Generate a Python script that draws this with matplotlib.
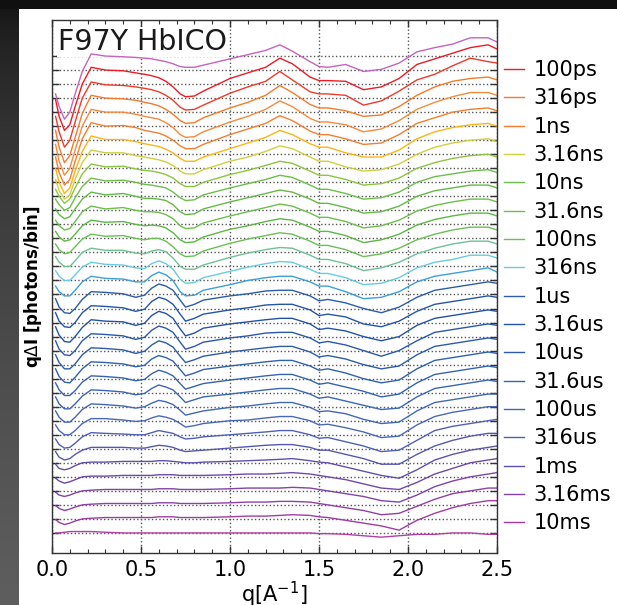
import numpy as np
import matplotlib
matplotlib.use('Agg')
import matplotlib.pyplot as plt
from matplotlib.ticker import MultipleLocator

# ---- data ----
q_points = [0.02, 0.04, 0.07, 0.10, 0.13,
            0.17, 0.22, 0.30, 0.40, 0.47,
            0.52, 0.56, 0.60, 0.64, 0.68,
            0.72, 0.75, 0.80, 0.85, 1.00,
            1.10, 1.20, 1.28, 1.35, 1.45,
            1.50, 1.55, 1.65, 1.75, 1.85,
            1.95, 2.05, 2.15, 2.25, 2.35,
            2.45, 2.50]

c00 = [-2.7, -3.6, -4.5, -4.0, -2.7, -1.1, 0.15, 0.0, -0.05, -0.1, -0.15, -0.2, -0.3, -0.4, -0.55, -0.75, -0.8, -0.8, -0.65, -0.2, 0.1, 0.4, 0.8, 0.35, -0.4, -0.75, -0.8, -0.6, -1.1, -0.95, -0.5, 0.3, 0.6, 0.85, 1.3, 1.3, 1.0]
c01 = [-2.1, -3.3, -4.3, -3.9, -2.6, -1.0, 0.2, 0.0, -0.05, -0.2, -0.3, -0.4, -0.55, -0.8, -1.2, -1.7, -1.9, -1.85, -1.5, -0.6, -0.2, 0.2, 0.85, 0.45, -0.5, -0.75, -0.75, -0.8, -1.4, -1.2, -0.6, 0.4, 0.8, 1.2, 1.6, 1.8, 1.5]
c02 = [-2.3, -3.4, -4.5, -4.0, -2.7, -1.0, 0.15, -0.05, -0.1, -0.2, -0.3, -0.4, -0.55, -0.8, -1.15, -1.65, -1.85, -1.8, -1.5, -0.65, -0.2, 0.2, 0.9, 0.3, -0.55, -0.7, -0.7, -0.8, -1.5, -1.2, -0.5, 0.3, 0.7, 1.3, 1.85, 1.6, 1.5]
c03 = [-2.3, -3.5, -4.6, -4.1, -2.8, -1.1, 0.2, 0.0, -0.05, -0.15, -0.3, -0.4, -0.55, -0.8, -1.15, -1.6, -1.8, -1.75, -1.4, -0.7, -0.3, 0.2, 0.9, 0.4, -0.45, -0.7, -0.7, -0.9, -1.3, -1.2, -0.6, 0.2, 0.8, 1.2, 1.4, 1.5, 1.3]
c04 = [-2.3, -3.5, -4.5, -4.0, -2.7, -1.0, 0.2, 0.0, 0.0, -0.15, -0.3, -0.4, -0.5, -0.75, -1.1, -1.6, -1.8, -1.75, -1.4, -0.7, -0.3, 0.2, 0.8, 0.4, -0.45, -0.7, -0.7, -0.9, -1.4, -1.2, -0.6, 0.2, 0.7, 1.1, 1.4, 1.4, 1.2]
c05 = [-2.2, -3.3, -4.2, -3.8, -2.5, -0.9, 0.25, 0.0, 0.05, -0.1, -0.3, -0.4, -0.5, -0.7, -1.0, -1.4, -1.6, -1.6, -1.3, -0.6, -0.2, 0.2, 0.75, 0.4, -0.35, -0.6, -0.6, -0.9, -1.3, -1.2, -0.6, 0.2, 0.6, 1.0, 1.2, 1.3, 1.1]
c06 = [-2.0, -3.0, -3.8, -3.4, -2.2, -0.8, 0.3, 0.05, 0.05, -0.1, -0.25, -0.35, -0.45, -0.65, -0.9, -1.3, -1.5, -1.5, -1.2, -0.6, -0.2, 0.2, 0.7, 0.4, -0.25, -0.5, -0.5, -0.9, -1.2, -1.2, -0.7, 0.1, 0.6, 0.9, 1.1, 1.2, 1.0]
c07 = [-1.8, -2.6, -3.2, -2.9, -1.8, -0.6, 0.3, 0.1, 0.1, -0.1, -0.2, -0.3, -0.4, -0.55, -0.8, -1.2, -1.4, -1.4, -1.1, -0.5, -0.2, 0.2, 0.6, 0.4, -0.2, -0.5, -0.5, -0.9, -1.2, -1.1, -0.7, 0.0, 0.5, 0.8, 1.0, 1.1, 0.9]
c08 = [-1.5, -2.0, -2.5, -2.2, -1.4, -0.4, 0.3, 0.1, 0.15, -0.05, -0.15, -0.2, -0.3, -0.45, -0.7, -1.1, -1.3, -1.3, -1.0, -0.45, -0.15, 0.2, 0.5, 0.35, -0.2, -0.5, -0.5, -0.8, -1.2, -1.1, -0.7, 0.0, 0.4, 0.7, 0.9, 1.0, 0.8]
c09 = [-1.2, -1.6, -2.0, -1.8, -1.1, -0.3, 0.3, 0.1, 0.15, 0.0, -0.15, -0.2, -0.3, -0.4, -0.7, -1.1, -1.3, -1.25, -0.9, -0.4, -0.1, 0.2, 0.5, 0.35, -0.2, -0.5, -0.5, -0.8, -1.2, -1.1, -0.7, 0.0, 0.4, 0.6, 0.8, 0.9, 0.7]
c10 = [-0.9, -1.3, -1.6, -1.45, -0.9, -0.2, 0.3, 0.1, 0.2, 0.0, -0.15, -0.15, -0.2, -0.3, -0.6, -1.1, -1.3, -1.25, -0.9, -0.4, -0.1, 0.2, 0.45, 0.3, -0.2, -0.5, -0.5, -0.8, -1.2, -1.1, -0.7, 0.0, 0.4, 0.6, 0.8, 0.8, 0.6]
c11 = [-0.7, -1.1, -1.4, -1.3, -0.8, -0.1, 0.3, 0.1, 0.2, 0.0, -0.1, -0.1, -0.15, -0.3, -0.6, -1.1, -1.3, -1.25, -0.9, -0.4, -0.1, 0.2, 0.45, 0.3, -0.2, -0.5, -0.5, -0.8, -1.25, -1.1, -0.7, -0.05, 0.35, 0.6, 0.8, 0.8, 0.6]
c12 = [-0.5, -0.9, -1.2, -1.1, -0.7, -0.1, 0.3, 0.15, 0.2, 0.0, -0.1, -0.05, -0.1, -0.25, -0.6, -1.1, -1.3, -1.25, -0.9, -0.35, -0.1, 0.2, 0.4, 0.3, -0.2, -0.5, -0.5, -0.8, -1.3, -1.1, -0.7, -0.05, 0.35, 0.6, 0.8, 0.8, 0.6]
c13 = [-0.4, -0.8, -1.1, -1.0, -0.6, -0.05, 0.3, 0.15, 0.2, 0.0, -0.1, 0.0, 0.0, -0.2, -0.6, -1.1, -1.3, -1.25, -0.9, -0.35, -0.05, 0.2, 0.4, 0.3, -0.2, -0.5, -0.5, -0.8, -1.3, -1.1, -0.7, -0.1, 0.3, 0.6, 0.8, 0.8, 0.6]
c14 = [-0.3, -0.7, -1.0, -1.0, -0.6, 0.0, 0.3, 0.15, 0.15, -0.05, -0.1, 0.1, 0.2, 0.05, -0.4, -1.0, -1.2, -1.2, -0.9, -0.35, -0.05, 0.2, 0.35, 0.3, -0.2, -0.5, -0.5, -0.8, -1.3, -1.1, -0.7, -0.1, 0.3, 0.6, 0.8, 0.8, 0.6]
c15 = [-0.3, -0.7, -1.0, -1.0, -0.6, -0.05, 0.3, 0.15, 0.1, -0.1, -0.15, 0.2, 0.4, 0.2, -0.2, -0.9, -1.2, -1.15, -0.8, -0.35, -0.05, 0.2, 0.35, 0.3, -0.2, -0.5, -0.5, -0.8, -1.3, -1.2, -0.8, -0.1, 0.3, 0.5, 0.8, 0.8, 0.6]
c16 = [-0.4, -0.8, -1.1, -1.1, -0.7, -0.1, 0.3, 0.15, 0.1, -0.1, -0.1, 0.35, 0.6, 0.4, 0.0, -0.8, -1.1, -1.05, -0.7, -0.3, 0.0, 0.2, 0.3, 0.3, -0.1, -0.4, -0.4, -0.8, -1.3, -1.2, -0.8, -0.1, 0.3, 0.5, 0.7, 0.9, 0.6]
c17 = [-0.3, -0.9, -1.3, -1.35, -1.0, -0.35, 0.2, 0.15, 0.05, -0.2, -0.05, 0.45, 0.75, 0.6, 0.3, -0.4, -0.9, -0.7, -0.4, -0.1, 0.05, 0.25, 0.3, 0.3, -0.1, -0.45, -0.35, -0.6, -1.0, -1.3, -0.9, -0.2, 0.3, 0.5, 0.7, 0.9, 0.8]
c18 = [-0.3, -0.9, -1.3, -1.35, -1.0, -0.3, 0.2, 0.15, 0.05, -0.2, -0.05, 0.5, 0.8, 0.65, 0.3, -0.4, -0.9, -0.7, -0.4, -0.1, 0.05, 0.25, 0.3, 0.3, -0.1, -0.5, -0.4, -0.6, -1.1, -1.3, -0.9, -0.2, 0.3, 0.5, 0.7, 0.9, 0.8]
c19 = [-0.3, -0.9, -1.35, -1.4, -1.0, -0.35, 0.2, 0.1, 0.05, -0.2, -0.05, 0.5, 0.8, 0.65, 0.3, -0.45, -0.95, -0.75, -0.4, -0.1, 0.05, 0.2, 0.3, 0.3, -0.1, -0.5, -0.4, -0.6, -1.0, -1.3, -1.0, -0.2, 0.3, 0.5, 0.7, 0.9, 0.8]
c20 = [-0.3, -0.9, -1.3, -1.35, -1.0, -0.3, 0.2, 0.15, 0.05, -0.2, -0.05, 0.45, 0.75, 0.6, 0.3, -0.4, -0.9, -0.7, -0.4, -0.1, 0.05, 0.25, 0.3, 0.3, -0.1, -0.45, -0.35, -0.6, -1.0, -1.4, -1.0, -0.3, 0.3, 0.5, 0.7, 0.9, 0.8]
c21 = [-0.3, -0.85, -1.3, -1.3, -0.95, -0.3, 0.2, 0.15, 0.05, -0.2, -0.05, 0.4, 0.7, 0.55, 0.25, -0.4, -0.85, -0.65, -0.4, -0.1, 0.05, 0.2, 0.3, 0.3, -0.1, -0.45, -0.35, -0.6, -1.0, -1.3, -1.1, -0.3, 0.3, 0.5, 0.7, 0.9, 0.8]
c22 = [-0.3, -0.85, -1.25, -1.3, -0.9, -0.3, 0.2, 0.15, 0.05, -0.15, -0.05, 0.4, 0.65, 0.5, 0.25, -0.35, -0.8, -0.6, -0.35, -0.1, 0.05, 0.2, 0.3, 0.3, -0.1, -0.4, -0.3, -0.6, -1.0, -1.3, -1.1, -0.3, 0.3, 0.5, 0.7, 0.9, 0.8]
c23 = [-0.3, -0.8, -1.2, -1.2, -0.85, -0.25, 0.2, 0.15, 0.05, -0.15, -0.05, 0.35, 0.6, 0.45, 0.2, -0.35, -0.75, -0.55, -0.35, -0.1, 0.05, 0.2, 0.3, 0.3, -0.1, -0.4, -0.3, -0.6, -0.9, -1.3, -1.1, -0.3, 0.3, 0.5, 0.7, 0.9, 0.8]
c24 = [-0.3, -0.8, -1.15, -1.15, -0.8, -0.25, 0.2, 0.15, 0.05, -0.15, -0.05, 0.3, 0.55, 0.4, 0.2, -0.3, -0.7, -0.5, -0.3, -0.1, 0.05, 0.2, 0.3, 0.3, -0.1, -0.4, -0.3, -0.6, -0.9, -1.2, -1.1, -0.3, 0.3, 0.5, 0.7, 0.9, 0.8]
c25 = [-0.3, -0.75, -1.1, -1.1, -0.75, -0.2, 0.2, 0.15, 0.05, -0.1, 0.0, 0.25, 0.45, 0.35, 0.15, -0.25, -0.6, -0.45, -0.3, -0.05, 0.05, 0.2, 0.3, 0.3, -0.05, -0.35, -0.3, -0.5, -0.9, -1.2, -1.1, -0.3, 0.3, 0.5, 0.7, 0.9, 0.9]
c26 = [-0.3, -0.7, -1.0, -1.0, -0.7, -0.2, 0.15, 0.15, 0.05, -0.05, 0.0, 0.2, 0.35, 0.25, 0.1, -0.2, -0.45, -0.35, -0.2, 0.0, 0.05, 0.2, 0.3, 0.3, 0.0, -0.3, -0.25, -0.5, -0.8, -1.2, -1.1, -0.3, 0.3, 0.6, 0.8, 1.0, 1.0]
c27 = [-0.3, -0.7, -0.95, -0.9, -0.6, -0.15, 0.15, 0.1, 0.05, 0.0, 0.0, 0.15, 0.3, 0.2, 0.1, -0.15, -0.3, -0.25, -0.15, 0.0, 0.1, 0.2, 0.3, 0.3, 0.0, -0.25, -0.2, -0.5, -0.8, -1.2, -1.1, -0.4, 0.3, 0.6, 0.8, 1.0, 1.1]
c28 = [-0.2, -0.6, -0.8, -0.7, -0.4, -0.1, 0.1, 0.1, 0.1, 0.05, 0.05, 0.15, 0.25, 0.2, 0.1, -0.1, -0.2, -0.15, -0.1, 0.05, 0.15, 0.25, 0.3, 0.3, 0.1, -0.1, -0.1, -0.4, -0.7, -1.1, -1.1, -0.4, 0.2, 0.6, 0.9, 1.1, 1.1]
c29 = [-0.1, -0.4, -0.5, -0.4, -0.2, 0.0, 0.05, 0.05, 0.1, 0.1, 0.1, 0.1, 0.15, 0.15, 0.1, 0.05, 0.0, 0.0, 0.05, 0.1, 0.15, 0.2, 0.25, 0.3, 0.15, 0.05, 0.0, -0.3, -0.6, -0.9, -1.1, -0.5, 0.2, 0.6, 0.9, 1.1, 1.2]
c30 = [-0.1, -0.3, -0.45, -0.35, -0.2, 0.0, 0.05, 0.05, 0.1, 0.1, 0.1, 0.1, 0.15, 0.15, 0.15, 0.1, 0.1, 0.1, 0.1, 0.15, 0.2, 0.2, 0.25, 0.3, 0.2, 0.1, 0.0, -0.2, -0.5, -0.8, -0.9, -0.4, 0.2, 0.6, 1.0, 1.2, 1.3]
c31 = [-0.1, -0.3, -0.4, -0.3, -0.15, 0.0, 0.05, 0.1, 0.1, 0.1, 0.1, 0.1, 0.15, 0.15, 0.15, 0.1, 0.1, 0.1, 0.1, 0.15, 0.2, 0.2, 0.2, 0.25, 0.2, 0.1, 0.0, -0.2, -0.4, -0.7, -0.8, -0.3, 0.3, 0.7, 1.0, 1.2, 1.3]
c32 = [-0.05, -0.25, -0.4, -0.3, -0.15, 0.0, 0.05, 0.1, 0.1, 0.1, 0.1, 0.1, 0.15, 0.15, 0.15, 0.1, 0.1, 0.1, 0.1, 0.15, 0.2, 0.2, 0.25, 0.25, 0.2, 0.1, 0.0, -0.2, -0.4, -0.7, -0.6, -0.1, 0.4, 0.8, 1.0, 1.2, 1.2]
c33 = [-0.05, -0.25, -0.4, -0.3, -0.15, 0.0, 0.05, 0.1, 0.1, 0.1, 0.1, 0.1, 0.15, 0.15, 0.15, 0.1, 0.1, 0.1, 0.1, 0.15, 0.2, 0.2, 0.25, 0.3, 0.25, 0.15, 0.1, -0.1, -0.3, -0.5, -0.8, -0.1, 0.4, 0.8, 1.1, 1.3, 1.3]
c34 = [0.0, 0.0, 0.05, 0.1, 0.1,
       0.1, 0.1, 0.05, 0.0, 0.0,
       0.0, 0.0, 0.0, 0.0, 0.0,
       0.0, 0.0, 0.0, 0.0, 0.0,
       0.0, 0.0, 0.0, 0.0, 0.0,
       -0.05, -0.05, -0.1, -0.2, -0.3,
       -0.2, -0.1, -0.1, 0.0, 0.0,
       -0.1, -0.1]

curve_colors = ['#c464be', '#ec1c24', '#ef3a2a', '#f47a2c', '#f58a3a', '#f47e30',
                '#fdb515', '#cfcf3f', '#8cc63f', '#6cbf4a', '#64b946', '#6cbf4a',
                '#5cb845', '#6abf55', '#6fc196', '#66cde0', '#3b9fdc', '#2a5cab',
                '#2455a8', '#2352a6', '#2a58aa', '#2d5bab', '#3060b0', '#3563b2',
                '#3a66b4', '#4068b6', '#4a68b8', '#5060b4', '#5558b2', '#6050ae',
                '#7048aa', '#8044a8', '#9040a6', '#a03ca4', '#b040a8']

legend_labels = ['100ps', '316ps', '1ns', '3.16ns', '10ns', '31.6ns', '100ns', '316ns',
                 '1us', '3.16us', '10us', '31.6us', '100us', '316us', '1ms', '3.16ms', '10ms']

curves = [c00, c01, c02, c03, c04, c05, c06, c07, c08, c09, c10, c11, c12, c13, c14, c15,
          c16, c17, c18, c19, c20, c21, c22, c23, c24, c25, c26, c27, c28, c29, c30, c31,
          c32, c33, c34]
bad = [(i, len(c)) for i, c in enumerate(curves) if len(c) != len(q_points)]
assert not bad, bad

# ---- figure ----
W, H = 617, 605
fig = plt.figure(figsize=(W / 100, H / 100), dpi=100)
fig.patch.set_facecolor('white')

# screenshot frame: dark top band and grey left band
bg = fig.add_axes([0, 0, 1, 1], zorder=-10)
bg.set_xlim(0, W)
bg.set_ylim(H, 0)
bg.axis('off')
grad = np.linspace(0, 1, 200)[:, None]
left_vals = np.clip(0.05 + 0.32 * np.sqrt(grad), 0, 1)
bg.imshow(np.dstack([left_vals] * 3), extent=(0, 19, H, 0), aspect='auto')
bg.add_patch(plt.Rectangle((0, 0), W, 9, color='#101010', lw=0))

ax = fig.add_axes([52 / W, 52 / H, 445 / W, 533 / H])
n = len(curves)
lines = []
for i, c in enumerate(curves):
    base = n - 1 - i
    ln, = ax.plot(q_points, np.asarray(c) + base, color=curve_colors[i], lw=1.0, zorder=2)
    lines.append(ln)

ax.set_xlim(0, 2.5)
ax.set_ylim(-1.43, n - 1 + 2.57)
ax.set_yticks(range(n))
ax.set_yticklabels([])
ax.xaxis.set_major_locator(MultipleLocator(0.5))
ax.xaxis.set_minor_locator(MultipleLocator(0.1))
ax.tick_params(which='both', direction='in', top=True, right=True, color='#333333')
ax.tick_params(which='major', length=5, width=1, labelsize=15, pad=5)
ax.tick_params(which='minor', length=3, width=0.8)
ax.grid(True, which='major', linestyle=':', color='#555555', lw=1.0)
for sp in ax.spines.values():
    sp.set_color('#333333')
    sp.set_linewidth(1.0)

ax.set_xlabel(r'q[A$^{-1}$]', fontsize=15, labelpad=0)
ax.set_ylabel(r'q$\Delta$I [photons/bin]', fontsize=12, fontweight='bold', labelpad=1)

ax.text(0.0135, 0.9437, 'F97Y HbICO', transform=ax.transAxes, fontsize=20.5,
        va='baseline', ha='left', color='#1a1a1a', zorder=1.8,
        bbox=dict(facecolor='white', edgecolor='none', pad=0.5))

handles = [lines[2 * k + 1] for k in range(len(legend_labels))]
ax.legend(handles, legend_labels, loc='upper left', bbox_to_anchor=(0.996, 0.9403),
          frameon=False, fontsize=15, handlelength=1.0, handletextpad=0.45,
          labelspacing=0.40, borderaxespad=0.0, borderpad=0.4)

fig.savefig('out.png', dpi=100, facecolor=fig.get_facecolor())
